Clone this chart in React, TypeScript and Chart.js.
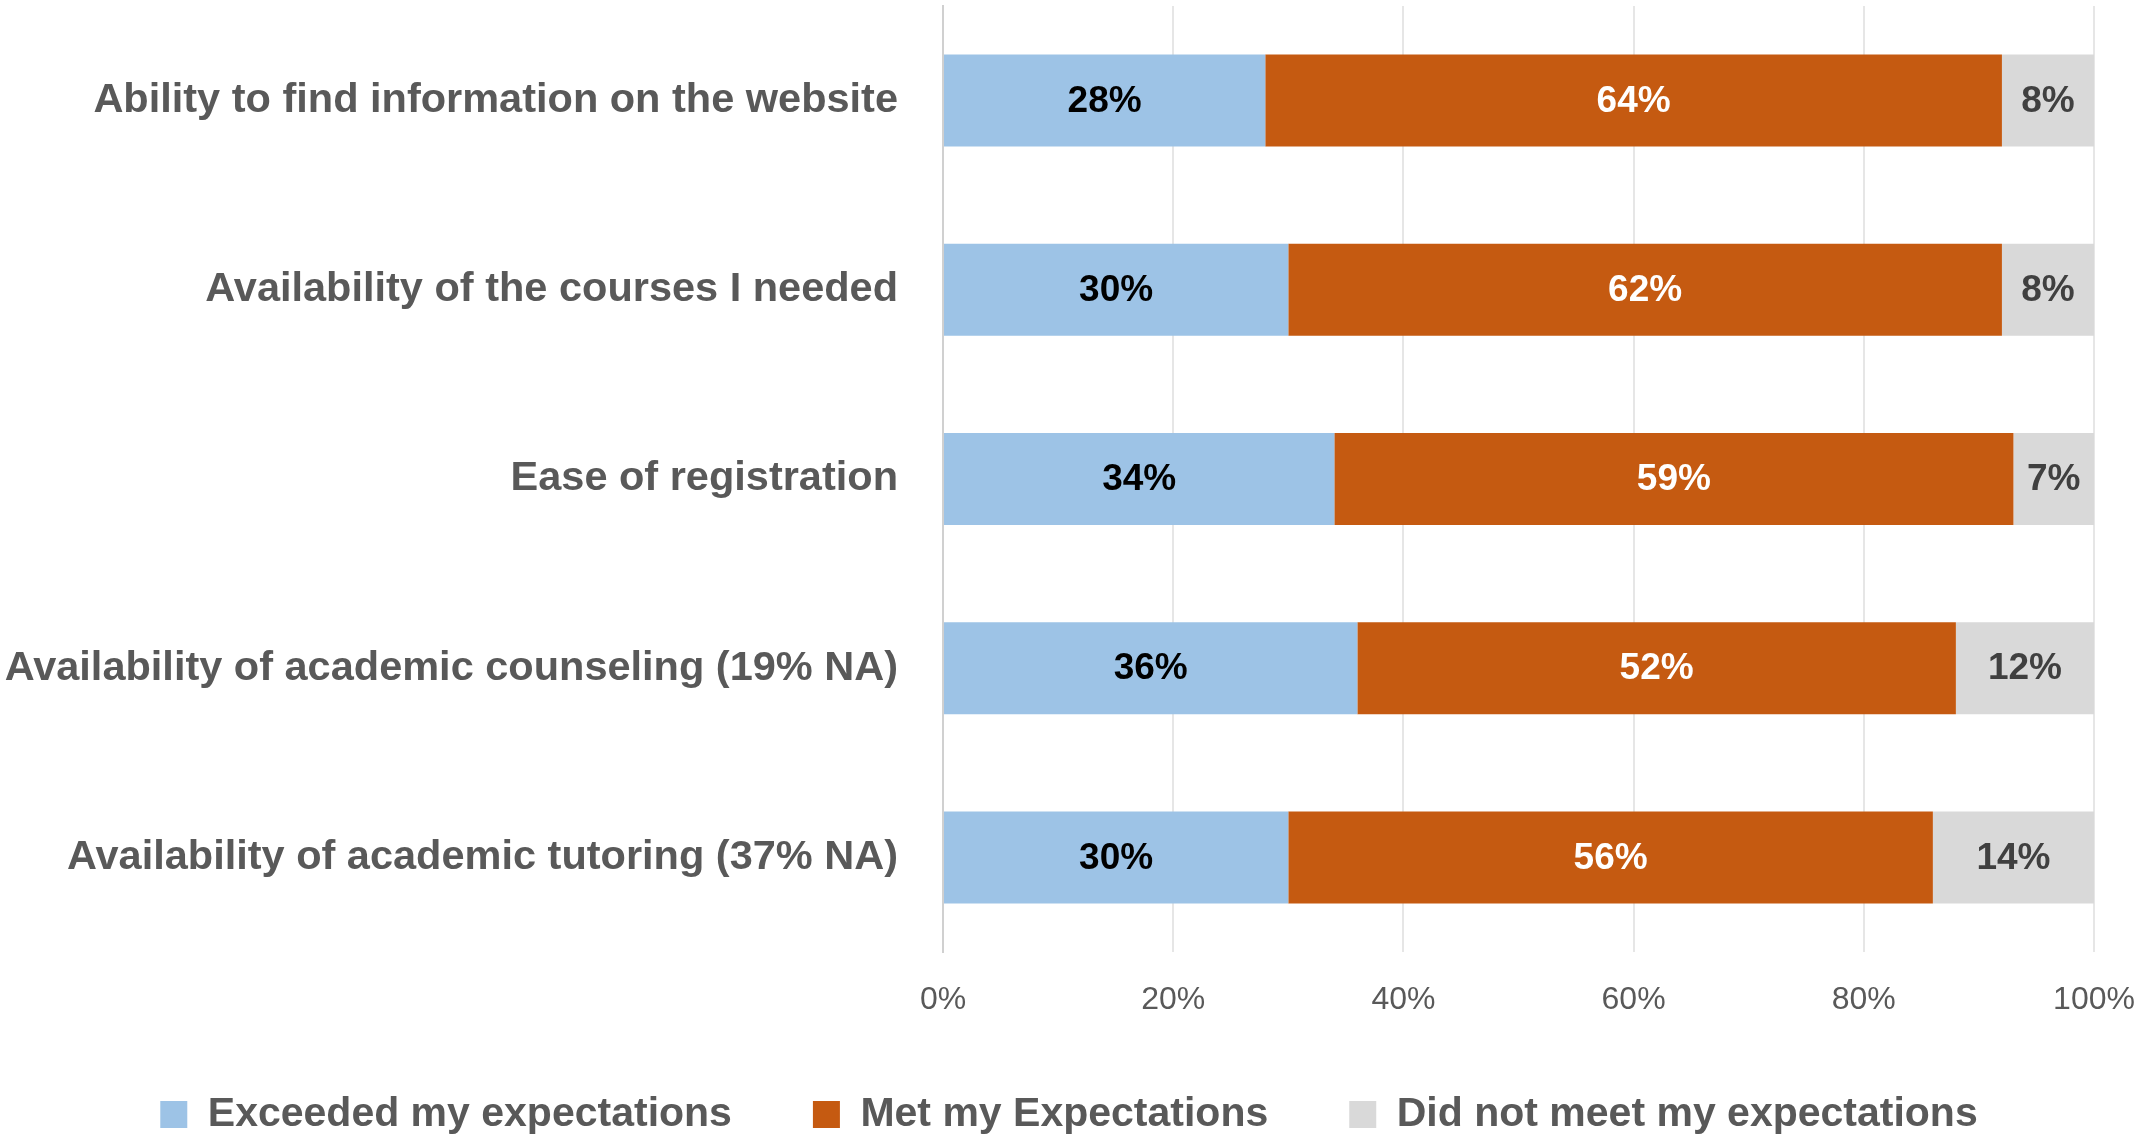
import React, { useEffect, useRef } from 'react';
import { Chart, registerables } from 'chart.js';

Chart.register(...registerables);

const categories = [
  'Ability to find information on the website',
  'Availability of the courses I needed',
  'Ease of registration',
  'Availability of academic counseling (19% NA)',
  'Availability of academic tutoring (37% NA)',
];
const exceeded = [28, 30, 34, 36, 30];
const met = [64, 62, 59, 52, 56];
const notMet = [8, 8, 7, 12, 14];
const seriesNames = ['Exceeded my expectations', 'Met my Expectations', 'Did not meet my expectations'];
const seriesColors = ['#9DC3E6', '#C55A11', '#D9D9D9'];
const labelColors = ['#000000', '#FFFFFF', '#404040'];

const FONT = "'Liberation Sans', Arial, sans-serif";

const dataLabelPlugin = {
  id: 'dataLabels',
  afterDatasetsDraw(chart: any) {
    const ctx = chart.ctx;
    ctx.save();
    ctx.font = `bold 37px ${FONT}`;
    ctx.textAlign = 'center';
    ctx.textBaseline = 'middle';
    chart.data.datasets.forEach((ds: any, i: number) => {
      const meta = chart.getDatasetMeta(i);
      meta.data.forEach((el: any, j: number) => {
        const p = el.getProps(['x', 'y', 'base'], true);
        ctx.fillStyle = labelColors[i];
        ctx.fillText(`${ds.data[j]}%`, (p.x + p.base) / 2, p.y + 1);
      });
    });
    ctx.restore();
  },
};

export default function App() {
  const ref = useRef<HTMLCanvasElement | null>(null);
  useEffect(() => {
    if (!ref.current) return;
    const chart = new Chart(ref.current, {
      type: 'bar',
      data: {
        labels: categories,
        datasets: [exceeded, met, notMet].map((d, i) => ({
          label: seriesNames[i],
          data: d,
          backgroundColor: seriesColors[i],
          borderWidth: 0,
          categoryPercentage: 1,
          barPercentage: 0.486,
        })),
      },
      options: {
        indexAxis: 'y',
        responsive: false,
        animation: false,
        layout: { padding: { top: 6, right: 0, left: 0, bottom: -6 } },
        plugins: {
          tooltip: { enabled: false },
          legend: {
            position: 'bottom',
            labels: {
              boxWidth: 27,
              boxHeight: 27,
              padding: 81,
              color: '#595959',
              font: { family: FONT, size: 41, weight: 'bold' },
            },
          },
        },
        scales: {
          x: {
            stacked: true,
            min: 0,
            max: 100,
            ticks: {
              stepSize: 20,
              padding: 29,
              color: '#595959',
              font: { family: FONT, size: 32 },
              callback: (v: any) => `${v}%`,
            },
            grid: { color: '#E6E6E6', lineWidth: 2, drawTicks: false },
            border: { display: false },
            afterFit: (s: any) => {
              s.height = 61;
              s.paddingLeft = 0;
              s.paddingRight = 44;
              s._computeLabelArea = () => undefined;
            },
          },
          y: {
            stacked: true,
            ticks: {
              padding: 45,
              color: '#595959',
              font: { family: FONT, size: 41.5, weight: 'bold' },
            },
            grid: { display: false, drawTicks: false },
            border: { display: true, color: '#D0D0D0', width: 2 },
            afterFit: (s: any) => {
              s.width = 943;
              s.paddingTop = 0;
              s.paddingBottom = 0;
            },
          },
        },
      },
      plugins: [dataLabelPlugin],
    });
    return () => chart.destroy();
  }, []);
  return (
    <div style={{ position: 'fixed', left: 0, top: 0, width: 2138, height: 1139, background: '#fff' }}>
      <canvas ref={ref} width={2138} height={1139} style={{ width: 2138, height: 1139 }} />
    </div>
  );
}
